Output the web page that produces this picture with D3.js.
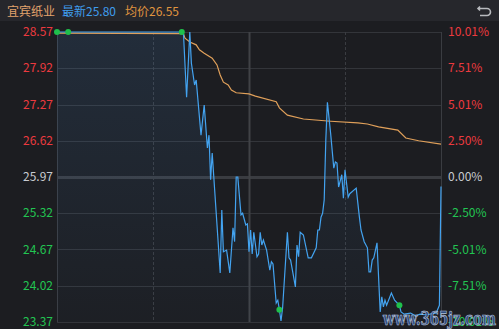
<!DOCTYPE html>
<html>
<head>
<meta charset="utf-8">
<script src="https://cdn.jsdelivr.net/npm/d3@7/dist/d3.min.js"></script>
<style>
  html, body { margin: 0; padding: 0; background: #1c1d21; overflow: hidden; }
  svg { display: block; font-family: "Noto Sans CJK SC", "Noto Sans", sans-serif; }
</style>
</head>
<body>
<svg id="chart" width="499" height="329"></svg>
<script>
// stock + header values
var stockName = "宜宾纸业";
var lastPrice = "25.80";
var avgPrice = "26.55";
var prevClose = 25.97;

// axis labels (left price, right percent)
var priceTicks = [28.57, 27.92, 27.27, 26.62, 25.97, 25.32, 24.67, 24.02, 23.37];
var pctTicks = ["10.01%", "7.51%", "5.01%", "2.50%", "0.00%", "-2.50%", "-5.01%", "-7.51%", "-10.01%"];

// price line, minute index (0..240) and price
var priceMinutes = [0, 79, 81, 83, 84, 86, 87, 90, 92, 94, 95, 96, 97, 102, 103, 104, 106, 108, 110, 111, 112, 113, 115, 116, 118, 119,
  120, 121, 122, 123, 125, 126, 127, 128, 129, 131, 133, 134, 135, 137, 138, 139, 140, 141, 144, 145, 146, 149, 150, 151, 152, 154,
  157, 159, 162, 163, 164, 165, 166, 167, 168, 169, 171, 173, 174, 175, 176, 178, 179, 180, 182, 183, 187, 189, 190, 192, 194, 195,
  196, 197, 198, 200, 202, 203, 204, 205, 206, 209, 211, 214, 215, 217, 221, 224, 227, 230, 233, 237, 239, 240];
var priceValues = [28.57, 28.57, 27.40, 28.57, 28.01, 27.62, 27.71, 26.72, 27.26, 26.49, 26.72, 25.92, 26.40, 24.25, 25.38, 24.63, 24.66, 24.25, 25.06, 24.81, 25.97, 25.97, 25.29, 25.32, 25.11, 25.13,
  24.63, 25.02, 24.59, 24.98, 24.54, 24.59, 24.98, 24.75, 24.84, 24.66, 24.30, 24.45, 24.41, 23.71, 23.76, 23.59, 23.39, 23.62, 24.98, 24.52, 24.48, 24.00, 24.75, 24.54, 24.98, 24.93,
  24.52, 24.52, 24.70, 25.02, 25.02, 25.25, 25.32, 25.56, 26.63, 27.31, 26.76, 26.13, 26.24, 26.22, 25.79, 26.01, 25.59, 26.10, 25.61, 25.67, 25.77, 25.25, 25.02, 24.81, 24.70, 24.27,
  24.27, 24.48, 24.52, 24.79, 23.55, 23.82, 23.64, 23.76, 23.67, 23.89, 23.76, 23.67, 23.55, 23.51, 23.53, 23.48, 23.51, 23.50, 23.51, 23.53, 23.67, 25.80];

// average price line
var avgMinutes = [0, 79, 80, 83, 87, 89, 92, 97, 100, 102, 104, 107, 109, 112, 120, 124, 137, 139, 144, 154, 171, 188, 194, 201, 213, 218, 226, 240];
var avgValues = [28.55, 28.54, 28.46, 28.39, 28.34, 28.25, 28.19, 28.10, 27.98, 27.80, 27.67, 27.62, 27.53, 27.48, 27.46, 27.42, 27.32, 27.21, 27.08, 27.01, 26.97, 26.94, 26.92, 26.87, 26.81, 26.67, 26.62, 26.56];

// green markers on the price line
var markerMinutes = [0, 7, 78, 139, 214];
var markerValues = [28.57, 28.57, 28.57, 23.59, 23.67];

(function() {
  var red = "#ec3a3f", green = "#22c552", grey = "#c8cbd0";
  var W = 499;
  var plotLeft = 57, plotRight = 441, plotTop = 32, plotBottom = 322;

  var svg = d3.select("#chart");

  // header bar
  svg.append("rect").attr("x", 0).attr("y", 0).attr("width", W).attr("height", 21).attr("fill", "#26272c");
  var head = svg.append("text").attr("x", 7).attr("y", 15.5).attr("font-size", 12);
  head.append("tspan").attr("fill", "#e3a36c").text(stockName);
  head.append("tspan").attr("dx", 7).attr("fill", "#3f9ded").text("最新" + lastPrice);
  head.append("tspan").attr("dx", 9).attr("fill", "#e0953f").text("均价" + avgPrice);

  // back icon
  svg.append("path")
    .attr("d", "M480,6.5 L478,8.5 L480,10.5 M478,8.5 H487 A3.5,3.5 0 0 1 487,15.5 H480")
    .attr("fill", "none").attr("stroke", "#b8babe").attr("stroke-width", 1.6);

  var x = d3.scaleLinear().domain([0, 240]).range([plotLeft, plotRight]);
  var y = d3.scaleLinear().domain([priceTicks[priceTicks.length - 1], priceTicks[0]]).range([plotBottom, plotTop]);

  // grid
  var grid = svg.append("g");
  grid.selectAll("line.h").data(priceTicks).enter().append("line")
    .attr("x1", plotLeft).attr("x2", plotRight)
    .attr("y1", function(d) { return Math.round(y(d)) + 0.5; })
    .attr("y2", function(d) { return Math.round(y(d)) + 0.5; })
    .attr("stroke", function(d) { return d === prevClose ? "#3a3c41" : "#33353a"; })
    .attr("stroke-width", function(d) { return d === prevClose ? 3 : 1; });

  var vLines = [0, 60, 120, 180, 240];
  grid.selectAll("line.v").data(vLines).enter().append("line")
    .attr("x1", function(d) { return Math.round(x(d)) + 0.5; })
    .attr("x2", function(d) { return Math.round(x(d)) + 0.5; })
    .attr("y1", plotTop).attr("y2", plotBottom)
    .attr("stroke", function(d) { return d === 120 ? "#404246" : "#3a3c41"; })
    .attr("stroke-width", function(d) { return d === 120 ? 2 : 1; })
    .attr("stroke-dasharray", function(d) { return (d === 60 || d === 180) ? "3,2" : null; });

  // area under price
  var grad = svg.append("defs").append("linearGradient").attr("id", "fillGrad")
    .attr("gradientUnits", "userSpaceOnUse")
    .attr("x1", 0).attr("x2", 0).attr("y1", plotTop).attr("y2", plotBottom);
  grad.append("stop").attr("offset", 0).attr("stop-color", "#4a8fd6").attr("stop-opacity", 0.14);
  grad.append("stop").attr("offset", 1).attr("stop-color", "#4a8fd6").attr("stop-opacity", 0.02);

  var pricePts = priceMinutes.map(function(m, i) { return [m, priceValues[i]]; });
  var avgPts = avgMinutes.map(function(m, i) { return [m, avgValues[i]]; });

  var line = d3.line().x(function(d) { return x(d[0]); }).y(function(d) { return y(d[1]); });

  svg.append("path").datum(pricePts)
    .attr("d", d3.area().x(function(d) { return x(d[0]); }).y0(plotBottom).y1(function(d) { return y(d[1]); }))
    .attr("fill", "url(#fillGrad)");

  svg.append("path").datum(avgPts)
    .attr("d", line)
    .attr("fill", "none").attr("stroke", "#e0a05a").attr("stroke-width", 1.2);

  svg.append("path").datum(pricePts)
    .attr("d", line)
    .attr("fill", "none").attr("stroke", "#43a3f0").attr("stroke-width", 1.2);

  svg.selectAll("circle.mk").data(markerMinutes).enter().append("circle")
    .attr("cx", function(d) { return x(d); })
    .attr("cy", function(d, i) { return y(markerValues[i]); })
    .attr("r", 3).attr("fill", "#1fc04c");

  // axis labels
  function tickColor(i) { return i < 4 ? red : (i === 4 ? grey : green); }
  svg.selectAll("text.lp").data(priceTicks).enter().append("text")
    .attr("x", 53).attr("y", function(d) { return y(d) + 4; })
    .attr("text-anchor", "end").attr("font-size", 12)
    .attr("fill", function(d, i) { return tickColor(i); })
    .text(function(d) { return d.toFixed(2); });

  svg.selectAll("text.rp").data(pctTicks).enter().append("text")
    .attr("x", 448).attr("y", function(d, i) { return y(priceTicks[i]) + 4; })
    .attr("font-size", 12)
    .attr("fill", function(d, i) { return tickColor(i); })
    .text(function(d) { return d; });

  // watermark
  svg.append("text").attr("x", 383).attr("y", 325)
    .attr("font-family", "'DejaVu Serif', serif").attr("font-size", 19).attr("font-weight", "bold")
    .attr("textLength", 113).attr("lengthAdjust", "spacingAndGlyphs")
    .attr("fill", "#2e4f86").attr("stroke", "#c9d6ea").attr("stroke-width", 0.7).attr("opacity", 0.9)
    .text("www.365jz.com");
}());
</script>
</body>
</html>
